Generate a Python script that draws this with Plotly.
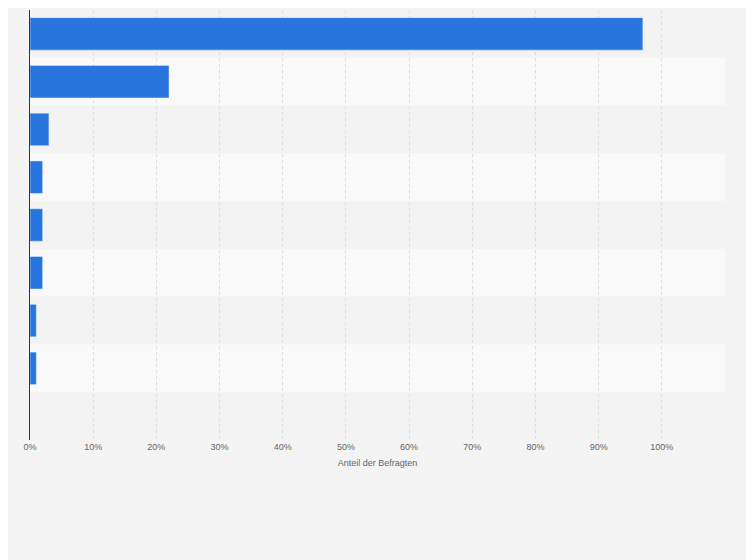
import plotly.graph_objects as go

categories = ["k1", "k2", "k3", "k4", "k5", "k6", "k7", "k8", "k9"]
values = [97, 22, 3, 2, 2, 2, 1, 1, None]
tick_vals = [0, 10, 20, 30, 40, 50, 60, 70, 80, 90, 100]
tick_text = [f"{v}%" for v in tick_vals]

fig = go.Figure()
fig.add_trace(go.Bar(
    x=values, y=categories, orientation="h",
    marker=dict(color="#2876dd"), width=0.68,
))

shapes = []
for i, c in enumerate(categories):
    shapes.append(dict(
        type="rect", xref="paper", yref="y", layer="below",
        x0=0, x1=1, y0=i - 0.5, y1=i + 0.5, line=dict(width=0),
        fillcolor="#f3f3f3" if i % 2 == 0 else "#f9f9f9",
    ))

# page body has an 8px margin, so shift the plot area back
fig.update_layout(
    width=754, height=560,
    margin=dict(l=22, r=37, t=2, b=128),
    paper_bgcolor="#f4f4f4", plot_bgcolor="#f4f4f4",
    shapes=shapes, showlegend=False,
    font=dict(family="Liberation Sans, Arial", color="#666666", size=9),
)
fig.update_xaxes(
    range=[0, 110], tickvals=tick_vals, ticktext=tick_text,
    showgrid=True, gridcolor="#dcdcdc", griddash="dot", zeroline=False,
    title=dict(text="Anteil der Befragten", font=dict(size=9, color="#666666"), standoff=8),
    ticks="", fixedrange=True,
)
fig.update_yaxes(
    categoryorder="array", categoryarray=categories, autorange="reversed",
    showticklabels=False, showgrid=False, ticks="",
    showline=True, linecolor="#333333", linewidth=1,
)

fig.write_html("out.html")
